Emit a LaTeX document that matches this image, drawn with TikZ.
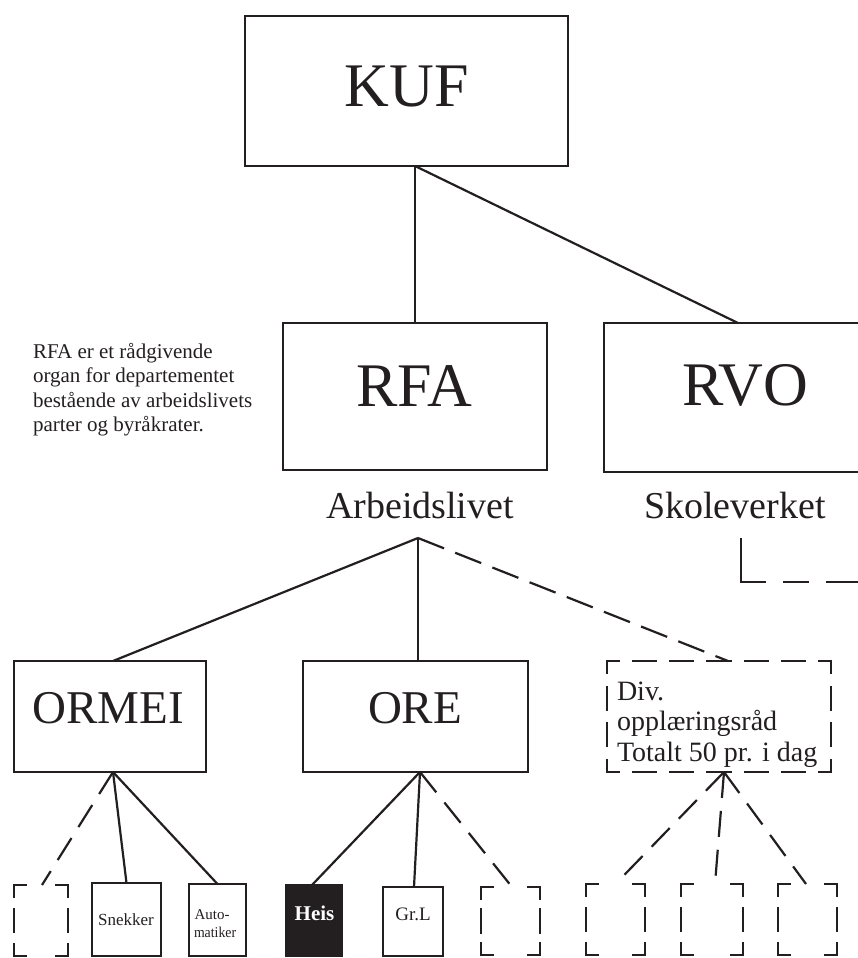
\documentclass[tikz,border=0pt]{standalone}
\usepackage{fontspec}
\setmainfont{Liberation Serif}
\usetikzlibrary{calc}
\definecolor{ink}{RGB}{35,31,32}
\newcommand\rsBig{\fontsize{62pt}{70pt}\selectfont}
\newcommand\rsMid{\fontsize{47pt}{54pt}\selectfont}
\newcommand\rsLab{\fontsize{38pt}{44pt}\selectfont}
\newcommand\rsDivF{\fontsize{28pt}{31pt}\selectfont}
\newcommand\rsNote{\fontsize{21pt}{24.5pt}\selectfont}
\tikzset{
  box/.style={draw=ink, line width=2.2pt, rectangle, inner sep=0pt, outer sep=0pt},
  dbox/.style={rectangle, inner sep=0pt, outer sep=0pt},
  sideline/.style={draw=ink, line width=2.2pt, line cap=rect},
  conn/.style={draw=ink, line width=2.2pt},
  dconn/.style={draw=ink, line width=2.2pt, dash pattern=on 26pt off 13pt},
  lbl/.style={text=ink, inner sep=0pt, outer sep=0pt, anchor=base},
  lblw/.style={text=ink, inner sep=0pt, outer sep=0pt, anchor=base west},
}
\newcommand\rsDside[4]{%
  \pgfmathsetmacro\rsGap{(#3-2*12-#4*23)/(#4+1)}%
  \xdef\rsPat{on 12pt}%
  \ifnum#4>0
    \foreach \rsI in {1,...,#4}{\xdef\rsPat{\rsPat\space off \rsGap pt on 23pt}}%
  \fi
  \xdef\rsPat{\rsPat\space off \rsGap pt on 12pt off 400pt}%
  \edef\rsTmp{\noexpand\draw[sideline,dash pattern=\rsPat] (#1) -- (#2);}%
  \rsTmp
}
\newcommand\rsDbox[5]{%
  \rsDside{#1.north west}{#1.north east}{#2}{#4}%
  \rsDside{#1.south west}{#1.south east}{#2}{#4}%
  \rsDside{#1.north west}{#1.south west}{#3}{#5}%
  \rsDside{#1.north east}{#1.south east}{#3}{#5}%
}
\begin{document}
\begin{tikzpicture}[x=1pt,y=-1pt]
\useasboundingbox (0,0) rectangle (858,958);
\clip (0,0) rectangle (858,958);

% top level
\node[box, minimum width=323pt, minimum height=150pt] (kuf) at (406.5,91) {};
\node[lbl, font=\rsBig] (kuft) at (407,106) {KUF};

\node[box, minimum width=264pt, minimum height=147pt] (rfa) at (415,396.5) {};
\node[lbl, font=\rsBig] (rfat) at (414,406) {RFA};

\node[box, minimum width=282pt, minimum height=149pt] (rvo) at (745,397.5) {};
\node[lbl, font=\rsBig] (rvot) at (745,405) {RVO};

\node[lbl, font=\rsLab] (arb) at (420,518) {Arbeidslivet};
\node[lbl, font=\rsLab] (skole) at (735,518) {Skoleverket};

% note
\node[lblw, font=\rsNote] (n1) at (33,358) {RFA er et rådgivende};
\node[lblw, font=\rsNote] (n2) at (33,382.5) {organ for departementet};
\node[lblw, font=\rsNote] (n3) at (33,407) {bestående av arbeidslivets};
\node[lblw, font=\rsNote] (n4) at (33,431.5) {parter og byråkrater.};

% second level
\node[box, minimum width=192pt, minimum height=111pt] (ormei) at (110,716.5) {};
\node[lbl, font=\rsMid] (ormeit) at (108,723) {ORMEI};

\node[box, minimum width=225pt, minimum height=111pt] (ore) at (415.5,716.5) {};
\node[lbl, font=\rsMid] (oret) at (415,723) {ORE};

\node[dbox, minimum width=224pt, minimum height=111pt] (div) at (719,716.5) {};
\rsDbox{div}{224}{111}{5}{2}
\node[lblw, font=\rsDivF] (div1) at (617,700) {Div.};
\node[lblw, font=\rsDivF] (div2) at (617,730.5) {opplæringsråd};
\node[lblw, font=\rsDivF] (div3) at (617,761.5) {Totalt 50 pr. i dag};

% bottom row
\node[dbox, minimum width=54pt, minimum height=71pt] (d1) at (41,920.5) {};
\rsDbox{d1}{54}{71}{0}{1}

\node[box, minimum width=69pt, minimum height=73pt] (snek) at (126.5,919.5) {};
\node[lbl, font=\fontsize{17pt}{20pt}\selectfont] (snekt) at (126,925) {Snekker};

\node[box, minimum width=57pt, minimum height=72pt] (auto) at (217.5,920) {};
\node[lblw, font=\fontsize{15pt}{17pt}\selectfont] (auto1) at (194.5,919.5) {Auto-};
\node[lblw, font=\fontsize{15pt}{17pt}\selectfont] (auto2) at (194,937) {\scalebox{0.92}[1]{matiker}};

\node[box, fill=ink, minimum width=56pt, minimum height=71pt] (heis) at (314,920.5) {};
\node[lbl, text=white, font=\fontsize{21pt}{24pt}\selectfont\bfseries] (heist) at (314.5,920) {Heis};

\node[box, minimum width=60pt, minimum height=69pt] (grl) at (413,921.5) {};
\node[lbl, font=\fontsize{19pt}{22pt}\selectfont] (grlt) at (413,920) {Gr.L};

\node[dbox, minimum width=59pt, minimum height=68pt] (d2) at (510.5,921) {};
\rsDbox{d2}{59}{68}{0}{1}

\node[dbox, minimum width=59pt, minimum height=71pt] (d3) at (615.5,919.5) {};
\rsDbox{d3}{59}{71}{0}{1}
\node[dbox, minimum width=62pt, minimum height=71pt] (d4) at (712,919.5) {};
\rsDbox{d4}{62}{71}{0}{1}
\node[dbox, minimum width=59pt, minimum height=71pt] (d5) at (807.5,919.5) {};
\rsDbox{d5}{59}{71}{0}{1}

% partial dashed box under Skoleverket
\coordinate (sk1) at (741,539.5);
\coordinate (sk2) at (741,582);
\coordinate (sk3) at (880,582);
\draw[sideline, dash pattern=on 66pt off 20pt on 23pt off 20pt on 60pt] (sk1) -- (sk2) -- (sk3);

% connectors
\coordinate (kufb) at (rfa.north |- kuf.south);
\draw[conn] (kufb) -- (rfa.north);
\draw[conn] (kufb) -- ([xshift=-7pt]rvo.north);

\coordinate (apex) at (418,538);
\draw[conn] (apex) -- ([xshift=3pt]ormei.north);
\draw[conn] (apex) -- (apex |- ore.north);
\draw[dconn, dash pattern=on 28pt off 12pt] (apex) -- ([xshift=9pt]div.north);

\coordinate (ormeib) at ([xshift=3pt]ormei.south);
\draw[dconn] (ormeib) -- ([xshift=1pt]d1.north);
\draw[conn] (ormeib) -- (snek.north);
\draw[conn] (ormeib) -- (auto.north);

\coordinate (oreb) at ([xshift=4.5pt]ore.south);
\draw[conn] (oreb) -- ([xshift=-2pt]heis.north);
\draw[conn] (oreb) -- ([xshift=1pt]grl.north);
\draw[dconn] (oreb) -- ([xshift=1.5pt]d2.north);

\coordinate (divb) at ([xshift=5pt]div.south);
\draw[dconn] (divb) -- (d3.north);
\draw[dconn] (divb) -- ([xshift=3pt]d4.north);
\draw[dconn] (divb) -- ([xshift=-1.5pt]d5.north);
\end{tikzpicture}
\end{document}
